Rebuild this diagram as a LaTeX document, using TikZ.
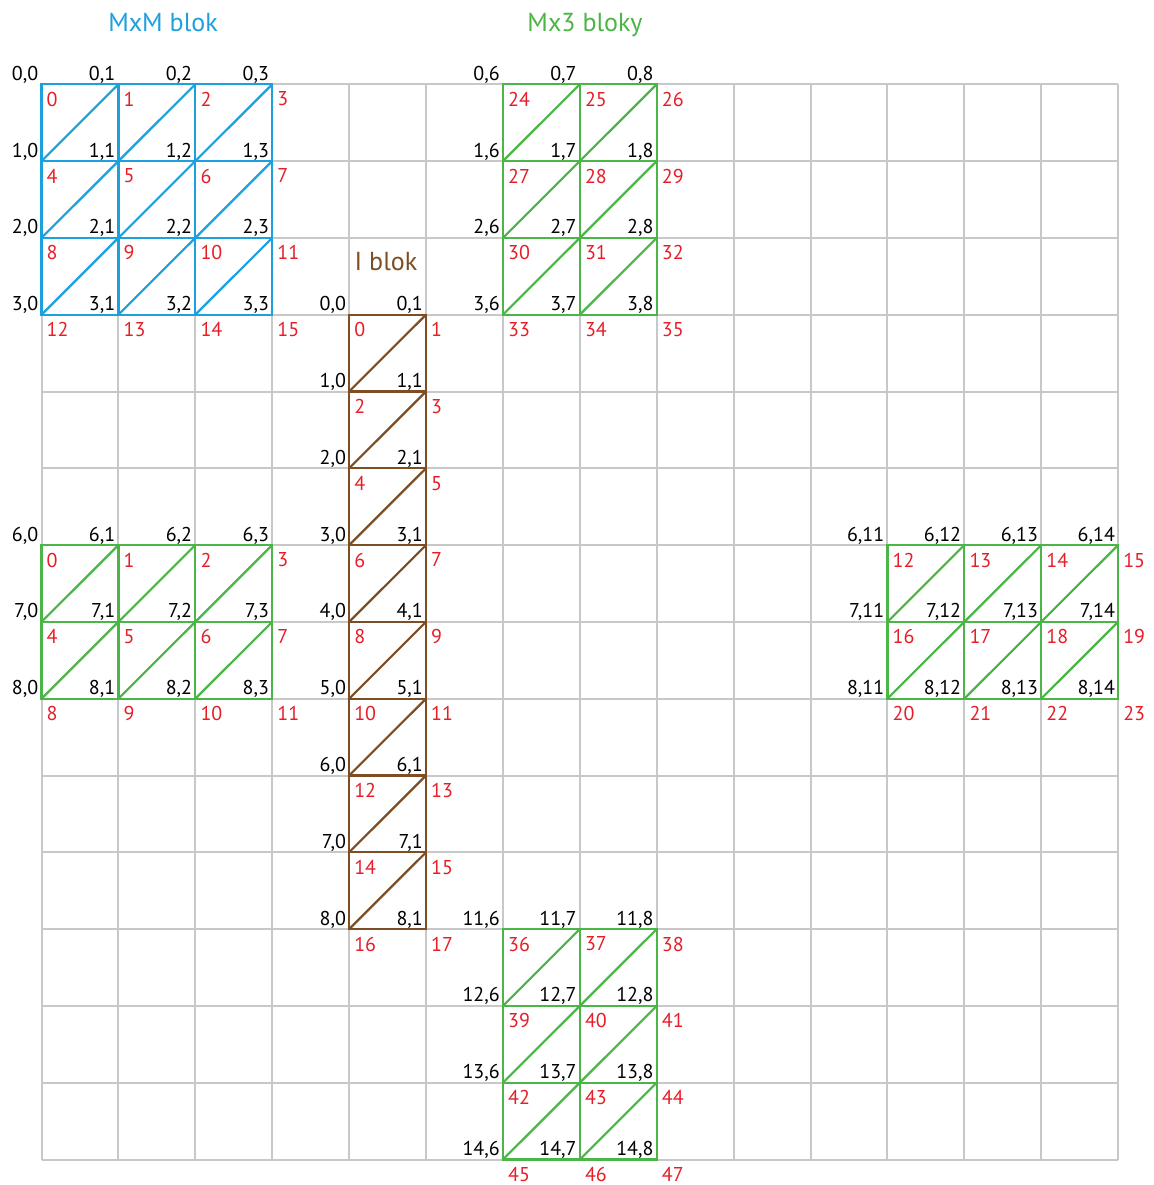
\documentclass[tikz,border=0pt]{standalone}
\usepackage{fontspec}
\setmainfont{PT Sans}
\definecolor{gridc}{HTML}{C8C8C8}
\definecolor{bluec}{HTML}{1CA0DE}
\definecolor{greenc}{HTML}{4BB547}
\definecolor{brownc}{HTML}{7D4E24}
\definecolor{redc}{HTML}{E61E28}
\newcommand\drawblok[8]{%
  \foreach \i in {1,...,#4}{\foreach \j in {1,...,#5}{%
     \pgfmathtruncatemacro\ra{#2+\i-1}\pgfmathtruncatemacro\rb{#2+\i}%
     \pgfmathtruncatemacro\ca{#3+\j-1}\pgfmathtruncatemacro\cb{#3+\j}%
     \draw[blokline,#1] (g-\ra-\ca) rectangle (g-\rb-\cb);
     \draw[blokline,#1] (g-\rb-\ca) -- (g-\ra-\cb);
  }}%
  \foreach \i in {0,...,#4}{\foreach \j in {0,...,#5}{%
     \pgfmathtruncatemacro\rr{#2+\i}\pgfmathtruncatemacro\cc{#3+\j}%
     \pgfmathtruncatemacro\lr{\rr-#7}\pgfmathtruncatemacro\lc{\cc-#8}%
     \pgfmathtruncatemacro\idx{#6+\i*(#5+1)+\j}%
     \node[coordlbl] (lbl-\rr-\cc) at ([shift={(-3,-4)}]g-\rr-\cc) {\lr,\lc};
     \node[idxlbl] (idx-\rr-\cc) at ([shift={(5,7.5)}]g-\rr-\cc) {\idx};
  }}%
}
\begin{document}
\begin{tikzpicture}[x=1pt,y=-1pt,
  gridline/.style={draw=gridc, line width=2pt},
  blokline/.style={line width=2.2pt},
  coordlbl/.style={anchor=base east, font=\fontsize{20}{20}\selectfont, text=black, inner sep=0pt},
  idxlbl/.style={anchor=north west, font=\fontsize{20}{20}\selectfont, text=redc, inner sep=0pt},
  titlelbl/.style={anchor=base, font=\fontsize{26}{26}\selectfont, inner sep=0pt}]
\useasboundingbox[fill=white] (0,0) rectangle (1153,1185);
\foreach \r in {0,...,14}{\foreach \c in {0,...,14}{%
  \coordinate (g-\r-\c) at ({41.5+76.9*\c},{84.3+76.8*\r});}}
\foreach \k in {0,...,14}{%
  \draw[gridline] (g-0-\k) -- (g-14-\k);
  \draw[gridline] (g-\k-0) -- (g-\k-14);}
% blocks
\drawblok{bluec}{0}{0}{3}{3}{0}{0}{0}
\drawblok{brownc}{3}{4}{8}{1}{0}{3}{4}
\drawblok{greenc}{6}{0}{2}{3}{0}{0}{0}
\drawblok{greenc}{6}{11}{2}{3}{12}{0}{0}
\drawblok{greenc}{0}{6}{3}{2}{24}{0}{0}
\drawblok{greenc}{11}{6}{3}{2}{36}{0}{0}
% titles
\node[titlelbl, text=bluec] (t-mxm) at (163,32) {MxM blok};
\node[titlelbl, text=greenc] (t-mx3) at (585,32) {Mx3 bloky};
\node[titlelbl, text=brownc] (t-i) at (386,270) {I blok};
\end{tikzpicture}
\end{document}
